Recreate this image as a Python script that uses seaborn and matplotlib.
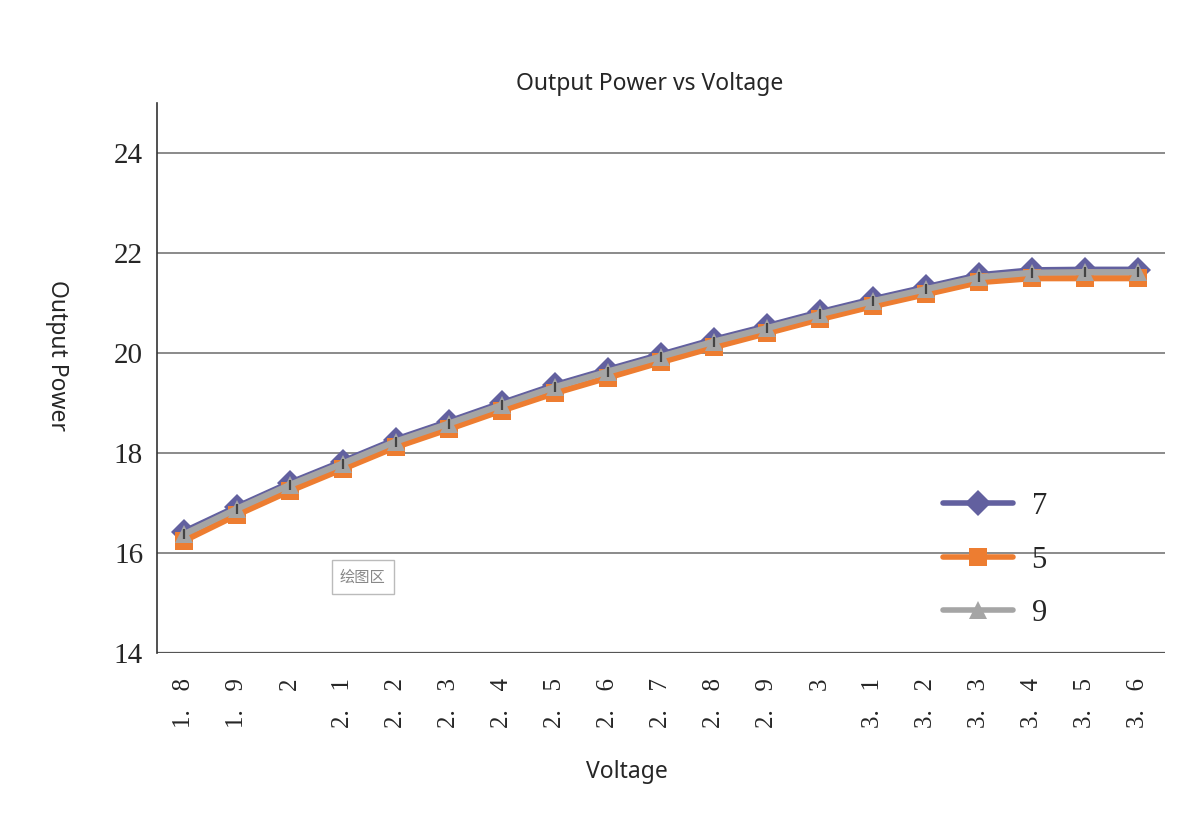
import numpy as np
import pandas as pd
import matplotlib
matplotlib.use("Agg")
import matplotlib.pyplot as plt
import seaborn as sns

voltage = [1.8, 1.9, 2.0, 2.1, 2.2, 2.3, 2.4, 2.5, 2.6, 2.7,
           2.8, 2.9, 3.0, 3.1, 3.2, 3.3, 3.4, 3.5, 3.6]
tick_labels = ["1.   8", "1.   9", "2", "2.   1", "2.   2", "2.   3", "2.   4", "2.   5", "2.   6", "2.   7",
               "2.   8", "2.   9", "3", "3.   1", "3.   2", "3.   3", "3.   4", "3.   5", "3.   6"]
power_7 = [16.42, 16.92, 17.40, 17.83, 18.27, 18.63, 19.00, 19.36, 19.67, 19.97,
           20.27, 20.54, 20.82, 21.08, 21.32, 21.56, 21.66, 21.67, 21.67]
power_5 = [16.24, 16.76, 17.24, 17.68, 18.12, 18.48, 18.85, 19.20, 19.51, 19.82,
           20.12, 20.40, 20.68, 20.94, 21.18, 21.42, 21.50, 21.50, 21.50]
power_9 = [16.37, 16.88, 17.36, 17.79, 18.23, 18.59, 18.96, 19.32, 19.63, 19.93,
           20.23, 20.50, 20.78, 21.04, 21.28, 21.52, 21.61, 21.62, 21.62]
series_names = ["7", "5", "9"]

df = pd.DataFrame({
    "Voltage": voltage * 3,
    "Output Power": power_7 + power_5 + power_9,
    "series": [n for n in series_names for _ in voltage],
})

sns.set_style("white")
plt.rcParams["font.family"] = ["Noto Sans", "DejaVu Sans"]

fig = plt.figure(figsize=(11.84, 8.14), dpi=100)
ax = fig.add_axes([0.1326, 0.198, 0.8514, 0.675])

palette = {"7": "#62609f", "5": "#ed7d31", "9": "#a5a5a5"}
markers = {"7": "D", "5": "s", "9": "^"}
sns.lineplot(data=df, x="Voltage", y="Output Power", hue="series", style="series",
             palette=palette, markers=markers, dashes=False, linewidth=4.5,
             markersize=13, markeredgewidth=0, ax=ax)
# small dark tick inside each marker
sns.scatterplot(x=voltage, y=power_9, marker="|", color="#444444", s=50,
                linewidth=1.6, ax=ax, legend=False, zorder=5)

ax.set_xlim(1.75, 3.651)
ax.set_ylim(14, 25)
ax.set_yticks([14, 16, 18, 20, 22, 24])
ax.set_xticks(voltage)
ax.set_xticklabels(tick_labels, rotation=90, family="Liberation Serif", fontsize=18)
for lbl in ax.get_yticklabels():
    lbl.set_family("Liberation Serif")
    lbl.set_fontsize(21)
ax.tick_params(axis="y", length=6, color="#333333", pad=4)
ax.tick_params(axis="x", length=0, pad=18)

for v in [16, 18, 20, 22, 24]:
    ax.axhline(v, color="#8a8a8a", linewidth=1.4, zorder=0)
for s in ["top", "right", "bottom"]:
    ax.spines[s].set_visible(False)
ax.axhline(14, color="#555555", linewidth=1.6, zorder=0)
ax.spines["left"].set_color("#333333")
ax.spines["left"].set_linewidth(1.2)

ax.set_xlabel("")
ax.set_ylabel("")
fig.text(650 / 1184, 1 - 84 / 814, "Output Power vs Voltage", fontsize=16.5, ha="center", va="center")
fig.text(627 / 1184, 1 - 772 / 814, "Voltage", fontsize=16.5, ha="center", va="center")
fig.text(57 / 1184, 1 - 355 / 814, "Output Power", fontsize=16.5, ha="center", va="center", rotation=270)

leg = ax.legend(loc="lower right", bbox_to_anchor=(0.91, -0.005), frameon=False,
                handlelength=2.3, handletextpad=0.6, labelspacing=0.8,
                prop={"family": "Liberation Serif", "size": 22})
for h in leg.legend_handles:
    h.set_linewidth(4)

ax.text(2.095, 15.52, "绘图区", family=["Noto Sans CJK SC", "DejaVu Sans"], fontsize=11,
        color="#888888", va="center", ha="left",
        bbox=dict(boxstyle="square,pad=0.55", facecolor="white", edgecolor="#bbbbbb", linewidth=1))

fig.savefig("out.png", dpi=100)
